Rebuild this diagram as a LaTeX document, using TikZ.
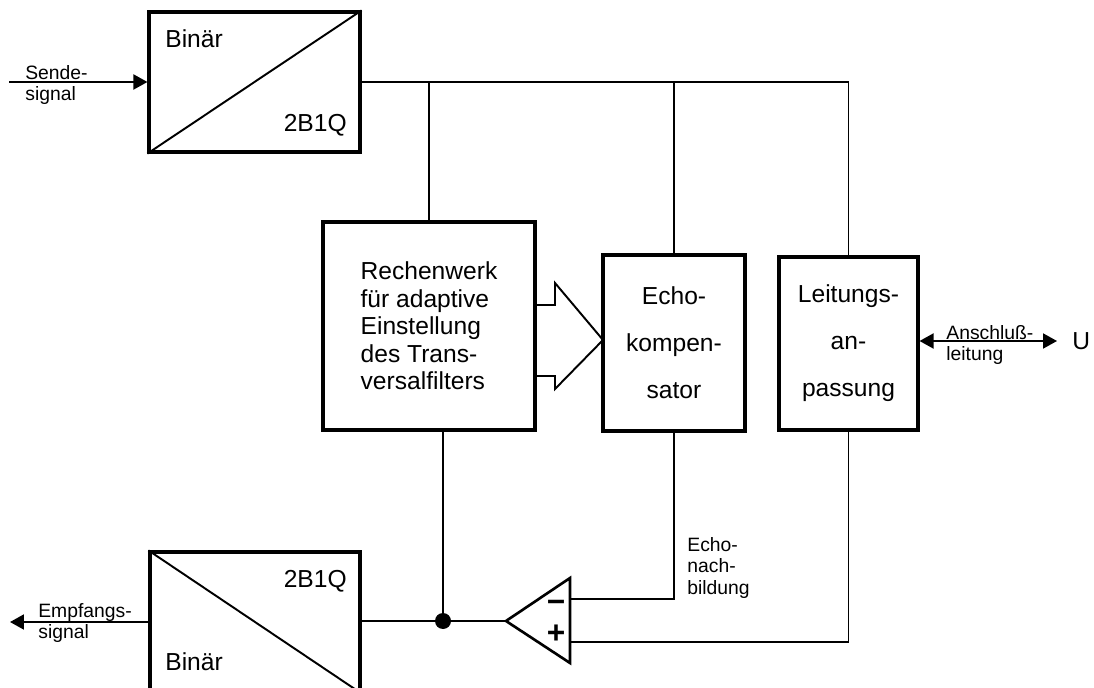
\documentclass[tikz,border=0pt]{standalone}
\usepackage{fontspec}
\setmainfont{Liberation Sans}
\usetikzlibrary{arrows.meta}

\begin{document}
\begin{tikzpicture}[x=0.02cm,y=-0.02cm,
  box/.style={draw,line width=1.8pt,inner sep=0pt},
  wire/.style={line width=1.1pt},
  tip/.style={-{Triangle[length=0.28cm,width=0.3cm]}},
  big/.style={font=\fontsize{14}{16}\selectfont,inner sep=0pt},
  small/.style={font=\fontsize{11}{11.9}\selectfont,inner sep=0pt,align=left},
  tiny/.style={font=\fontsize{11}{12.4}\selectfont,inner sep=0pt,align=left}]
\useasboundingbox (0,0) rectangle (1094,688);
\clip (0,0) rectangle (1094,688);

% Wandler oben und unten
\node[box,minimum width=4.22cm,minimum height=2.8cm] (tb) at (254.5,82) {};
\node[box,minimum width=4.2cm,minimum height=2.8cm] (bb) at (255,622) {};
\draw[wire] (tb.south west) -- (tb.north east);
\draw[wire] (bb.north west) -- (bb.south east);
\node[big,anchor=base west] (tbbin) at (165,48) {Binär};
\node[big,anchor=base east] (tbcode) at (347,132) {2B1Q};
\node[big,anchor=base east] (bbcode) at (347,587) {2B1Q};
\node[big,anchor=base west] (bbbin) at (165,670) {Binär};

% Bloecke in der Mitte
\node[box,minimum width=4.24cm,minimum height=4.16cm,align=left,
  font=\fontsize{14}{15.7}\selectfont] (rw) at (429,326)
  {Rechenwerk\\für adaptive\\Einstellung\\des Trans-\\versalfilters};
\node[box,minimum width=2.84cm,minimum height=3.52cm,align=center,
  font=\fontsize{14}{26.7}\selectfont] (ek) at (674,343)
  {Echo-\\kompen-\\sator};
\node[box,minimum width=2.78cm,minimum height=3.46cm,align=center,
  font=\fontsize{14}{26.7}\selectfont] (la) at (848.5,343.5)
  {Leitungs-\\an-\\passung};

% Blockpfeil
\draw[line width=1.1pt] (535,305) -- (555,305) -- (555,283) -- (603,340)
  -- (555,389) -- (555,376) -- (535,376);

% Subtrahierer
\draw[line width=1.5pt,line join=miter] (506,621) -- (570,578) -- (570,663) -- cycle;
\coordinate (cmp) at (506,621);
\coordinate (cmpm) at (570,599);
\coordinate (cmpp) at (570,642);
\node[font=\fontsize{18}{18}\bfseries,inner sep=0pt] (minus) at (556,606) {−};
\node[font=\fontsize{18}{18}\bfseries,inner sep=0pt] (plus) at (556,634) {+};

% Verbindungen
\coordinate (sendin) at (9,82);
\coordinate (empf) at (10,622);
\coordinate (ansch) at (1057,341);
\coordinate (dot) at (443,621);
\draw[wire,tip] (sendin) -- (tb.west);
\draw[wire] (rw.north) |- (tb.east);
\draw[wire] (ek.north) |- (tb.east);
\draw[wire] (la.north) |- (tb.east);
\draw[wire] (dot |- rw.south) -- (dot);
\draw[wire] (bb.east |- cmp) -- (cmp);
\draw[wire] (cmpm) -| (ek.south);
\draw[wire] (cmpp) -| (la.south);
\draw[wire,tip] (bb.west |- empf) -- (empf);
\draw[wire,{Triangle[length=0.28cm,width=0.3cm]}-{Triangle[length=0.28cm,width=0.3cm]}]
  (ansch -| la.east) -- (ansch);
\fill (dot) circle (0.16cm);

% Beschriftungen
\node[small,anchor=west] (sende) at (25,85) {Sende-\\signal};
\node[small,anchor=west] (empfl) at (38,623) {Empfangs-\\signal};
\node[small,anchor=west] (anschl) at (946,345) {Anschluß-\\leitung};
\node[tiny,anchor=west] (echon) at (687,568) {Echo-\\nach-\\bildung};
\node[big,anchor=west] (u) at (1072,341) {U};
\end{tikzpicture}
\end{document}
